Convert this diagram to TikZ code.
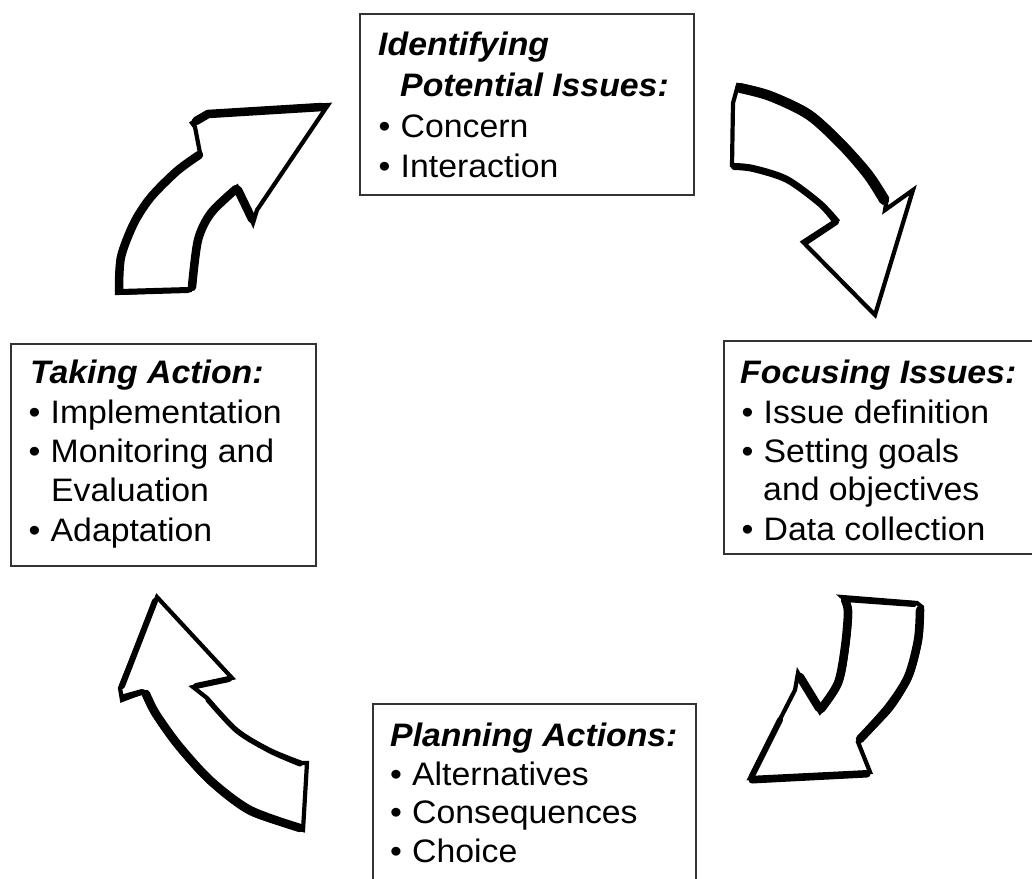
\documentclass[tikz,border=0pt]{standalone}
\usepackage{fontspec}
\setmainfont{Liberation Sans}[FakeStretch=1.04]
\newcommand{\bul}{\makebox[22pt][l]{•}}
\begin{document}
\begin{tikzpicture}[x=1pt,y=-1pt,
  box/.style={draw=black!80, line width=1.6pt, inner sep=0pt, anchor=north west},
  ln/.style={anchor=base west, inner sep=0pt, font=\fontsize{32.5}{38}\selectfont},
  hd/.style={anchor=base west, inner sep=0pt, font=\fontsize{32.5}{38}\selectfont\bfseries\itshape},
  arr/.style={draw=black, fill=white, line width=4.2pt, line join=miter, miter limit=6},
  thk/.style={draw=black, line width=8.5pt, line join=round, line cap=round},
]
\useasboundingbox (0,0) rectangle (1032,878);

% boxes
\node[box, minimum width=334pt, minimum height=181pt] (b1) at (359,13) {};
\node[box, minimum width=317pt, minimum height=213pt] (b2) at (723,340) {};
\node[box, minimum width=323pt, minimum height=187pt] (b3) at (372,703) {};
\node[box, minimum width=305pt, minimum height=222pt] (b4) at (10,343) {};

% top box text
\node[hd] (t1h1) at (378,55) {Identifying};
\node[hd] (t1h2) at (400,96) {Potential Issues:};
\node[ln] (t1a) at (378.5,137) {\bul Concern};
\node[ln] (t1b) at (378.5,177) {\bul Interaction};

% right box text
\node[hd] (t2h) at (740,383) {Focusing Issues:};
\node[ln] (t2a) at (741.5,423) {\bul Issue definition};
\node[ln] (t2b) at (741.5,462) {\bul Setting goals};
\node[ln] (t2c) at (763,500) {and objectives};
\node[ln] (t2d) at (741.5,540) {\bul Data collection};

% bottom box text
\node[hd] (t3h) at (390,746) {Planning Actions:};
\node[ln] (t3a) at (390,785) {\bul Alternatives};
\node[ln] (t3b) at (390,823) {\bul Consequences};
\node[ln] (t3c) at (390,862) {\bul Choice};

% left box text
\node[hd] (t4h) at (30,383) {Taking Action:};
\node[ln] (t4a) at (28.5,423) {\bul Implementation};
\node[ln] (t4b) at (28.5,462) {\bul Monitoring and};
\node[ln] (t4c) at (51,501) {Evaluation};
\node[ln] (t4d) at (28.5,541) {\bul Adaptation};

% arrow 1 (top left, pointing up-right)
\draw[arr] plot[smooth] coordinates {(117,293) (120,257) (133,223) (150,197) (177,170) (200,153)}
  -- (195,127) -- (192,123) -- (207,113) -- (328,105) -- (257,210) -- (253,223) -- (237,187)
  -- plot[smooth] coordinates {(237,187) (210,213) (197,240) (190,290)} -- cycle;
\draw[arr, fill=none, line width=2pt] (328,105) -- (257,210);
\draw[thk] plot[smooth] coordinates {(119,290) (121,257) (134,223) (151,197) (177,171) (199,155)};
\draw[thk] plot[smooth] coordinates {(236,189) (211,213) (198,240) (192,287)};
\draw[thk] (196,121) -- (208,114) -- (322,107);
\draw[thk] (252,219) -- (238,190);
\draw[thk, line width=6pt] (120,292) -- (188,290);

% arrow 2 (top right, pointing down-right)
\draw[arr] plot[smooth] coordinates {(738,85) (770,93) (810,112) (843,142) (870,172) (887,198)}
  -- (885,210) -- (913,190) -- (875,315) -- (803,242) -- (837,220)
  -- plot[smooth] coordinates {(837,220) (820,202) (787,178) (753,167) (732,165)} -- (733,103) -- cycle;
\draw[line width=10pt, line cap=round] plot[smooth] coordinates {(740,88) (770,96) (809,115) (842,145) (868,175) (884,200)};
\draw[thk, line width=6pt] plot[smooth] coordinates {(835,221) (820,204) (787,180) (753,169) (734,167)};
\draw[thk, line width=6pt] (806,242) -- (836,222);

% arrow 3 (bottom right, pointing down-left)
\draw[arr] (842,597) -- (917,603) -- (922,607)
  -- plot[smooth] coordinates {(922,607) (920,640) (910,677) (890,710) (858,742)}
  -- (870,772) -- (750,778) -- (795,690) -- (798,673) -- (820,712)
  -- plot[smooth] coordinates {(820,712) (840,683) (847,647) (850,610) (842,597)} -- cycle;
\draw[thk] plot[smooth] coordinates {(920,610) (918,640) (908,677) (888,708) (860,739)};
\draw[thk] plot[smooth] coordinates {(821,709) (838,683) (845,647) (848,612) (845,600)};
\draw[thk] (800,677) -- (819,708);
\draw[thk, line width=7pt] (867,774) -- (752,780);
\draw[thk, line width=6pt] (752,776) -- (780,720);
\draw[thk, line width=6pt] (845,599) -- (914,604);

% arrow 4 (bottom left, pointing up-left)
\draw[arr] (157,597) -- (120,688) -- (122,700) -- (143,692)
  -- plot[smooth] coordinates {(143,692) (153,713) (177,747) (210,783) (250,813) (303,830)}
  -- (307,763)
  -- plot[smooth] coordinates {(302,763) (270,750) (237,730) (207,698)} -- (193,687) -- (232,678) -- cycle;
\draw[arr, fill=none, line width=2.5pt] (303,830) -- (307,763);
\draw[thk] plot[smooth] coordinates {(146,694) (156,714) (179,746) (211,781) (250,810) (300,828)};
\draw[thk, line width=6pt] (155,601) -- (122,686);
\draw[thk, line width=6pt] (124,697) -- (142,692);
\draw[thk, line width=6pt] (196,686) -- (229,679);
\draw[thk, line width=5pt] plot[smooth] coordinates {(300,764) (270,751) (237,731) (208,700)};
\end{tikzpicture}
\end{document}
